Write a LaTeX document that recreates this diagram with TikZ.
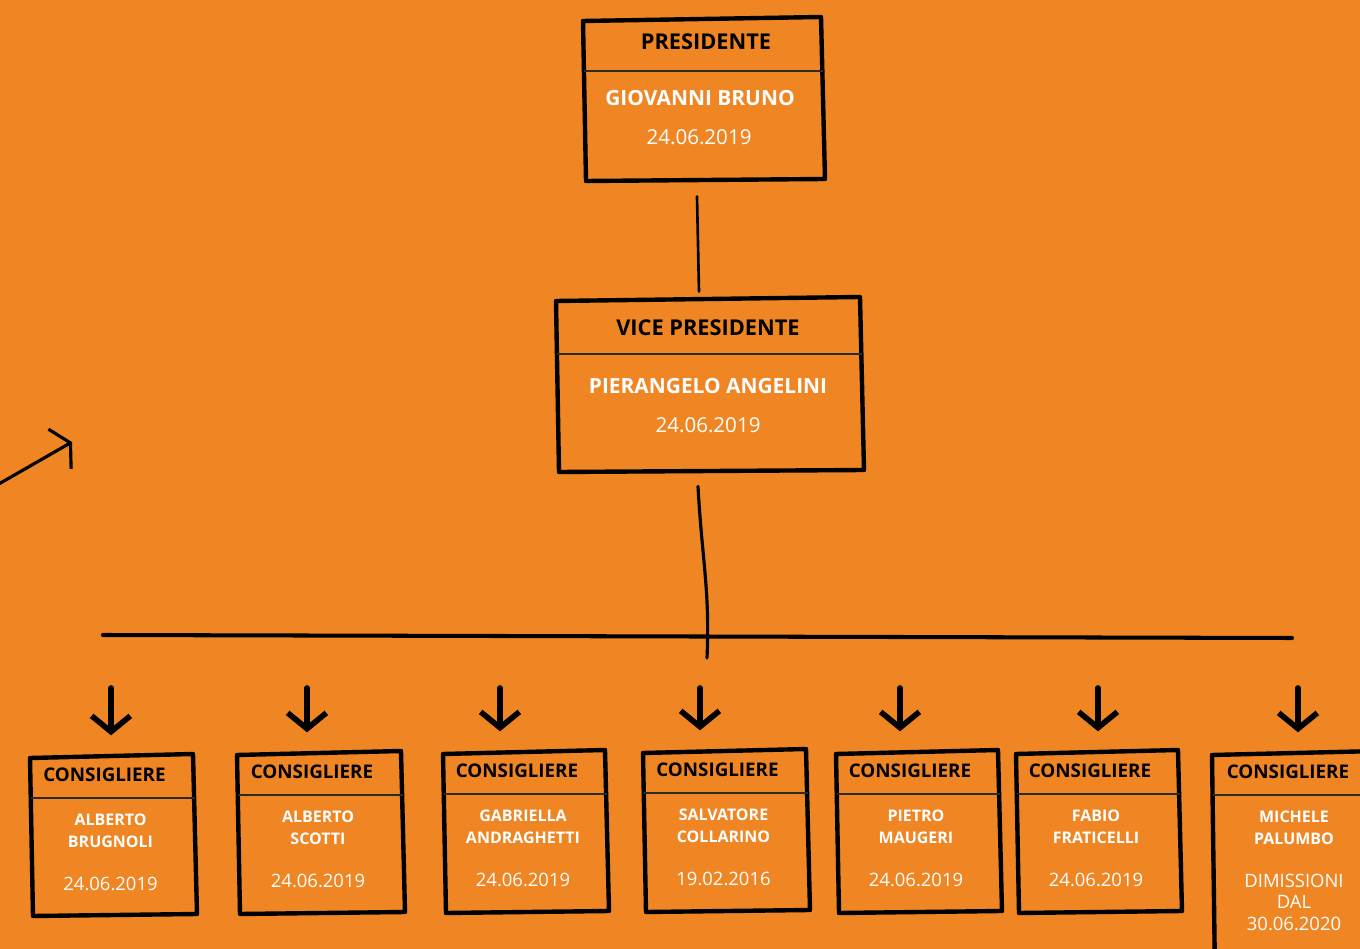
\documentclass[tikz,border=0pt]{standalone}
\usepackage{fontspec}
\setmainfont{Open Sans}
\usepackage{tikz}
\usetikzlibrary{arrows.meta, positioning, calc, fit}

\definecolor{bgorange}{HTML}{EF8623}
\definecolor{divgray}{HTML}{2A2A2A}

\tikzset{
  border/.style={line width=2.5pt, line join=round, line cap=round},
  divider/.style={divgray, line width=1.2pt},
  link/.style={line width=1.5pt, line cap=round},
  downarrow/.style={line width=3.2pt, line cap=round, line join=round,
    -{Straight Barb[length=9pt,width=22pt,line width=3.2pt]}},
  bigrole/.style={inner sep=0pt, text=black, font=\fontsize{12.4}{14}\selectfont\bfseries},
  bigname/.style={inner sep=0pt, text=white, font=\fontsize{11.9}{14}\selectfont\bfseries},
  bigdate/.style={inner sep=0pt, text=white, font=\fontsize{11.7}{14}\selectfont},
  role/.style={inner sep=0pt, text=black, font=\fontsize{10.7}{12}\selectfont\bfseries},
  who/.style={inner sep=0pt, text=white, align=center, font=\fontsize{9.1}{12.2}\selectfont\bfseries},
  when/.style={inner sep=0pt, text=white, align=center, font=\fontsize{10.5}{12.2}\selectfont},
}

% box with a slightly crooked outline: name, left, top, right, bottom, divider
\newcommand{\sketchbox}[6]{%
  \node[fit={(#2,#3) (#4,#5)}, inner sep=0pt] (#1) {};
  \draw[border] (#2,#3+3) -- (#4-2,#3-1) -- (#4+2,#5-1) -- (#2+3,#5+1) -- cycle;
  \draw[divider] (#2+1,#6) -- (#4,#6);
}

\begin{document}
\begin{tikzpicture}[x=0.02cm, y=-0.02cm]
\useasboundingbox (0,0) rectangle (1360,949);
\fill[bgorange] (0,0) rectangle (1360,949);

% Presidente
\sketchbox{pres}{583}{18}{823}{180}{71}
\node[bigrole] (pres-role) at (706,42) {PRESIDENTE};
\node[bigname] (pres-name) at (700,98) {GIOVANNI BRUNO};
\node[bigdate] (pres-date) at (699,137) {24.06.2019};

% Vice presidente
\sketchbox{vice}{556}{298}{862}{471}{354}
\node[bigrole] (vice-role) at (708,328) {VICE PRESIDENTE};
\node[bigname] (vice-name) at (708,386) {PIERANGELO ANGELINI};
\node[bigdate] (vice-date) at (708,425) {24.06.2019};

\draw[link] ($(pres.south)+(-6,16)$) -- ($(vice.north)+(-10,-6)$);

% Bar to the consiglieri
\coordinate (barL) at (103,635);
\coordinate (barR) at (1292,638);
\coordinate (hub) at (707,658);
\draw[line width=2.3pt, line cap=round] (barL) -- (barR);
\draw[link, line width=1.8pt] ($(vice.south)+(-11,15)$) .. controls (702,560) and (710,590) .. (hub);

% Stray arrow on the left
\coordinate (s0) at (-10,489);
\coordinate (s1) at (72,442);
\draw[line width=1.8pt, line cap=round, line join=round,
  -{Straight Barb[length=7pt,width=26pt]}] (s0) -- (s1);

% Consiglieri
\foreach \i/\l/\t/\r/\b/\ax/\name/\date in {
  1/30/755/195/915/116/{ALBERTO\\BRUGNOLI}/{24.06.2019},
  2/237/752/403/913/312/{ALBERTO\\SCOTTI}/{24.06.2019},
  3/443/751/607/912/505/{GABRIELLA\\ANDRAGHETTI}/{24.06.2019},
  4/643/750/808/911/705/{SALVATORE\\COLLARINO}/{19.02.2016},
  5/836/751/1000/912/905/{PIETRO\\MAUGERI}/{24.06.2019},
  6/1016/751/1180/912/1103/{FABIO\\FRATICELLI}/{24.06.2019},
  7/1212/752/1380/975/1303/{MICHELE\\PALUMBO}/{DIMISSIONI\\DAL\\30.06.2020}} {
    \sketchbox{c\i}{\l}{\t}{\r}{\b}{\t+43}
    \node[role] (c\i-role) at ($(c\i.north)+(-8,20)$) {CONSIGLIERE};
    \node[who, anchor=north] (c\i-name) at ($(c\i.north)+(-2,59)$) {\name};
    \node[when, anchor=north] (c\i-date) at ($(c\i.north)+(-2,122)$) {\date};
    \coordinate (a\i) at (\ax-5,688);
    \draw[downarrow, shorten >=11pt] (a\i) -- (a\i |- c\i.north);
}
\end{tikzpicture}
\end{document}
